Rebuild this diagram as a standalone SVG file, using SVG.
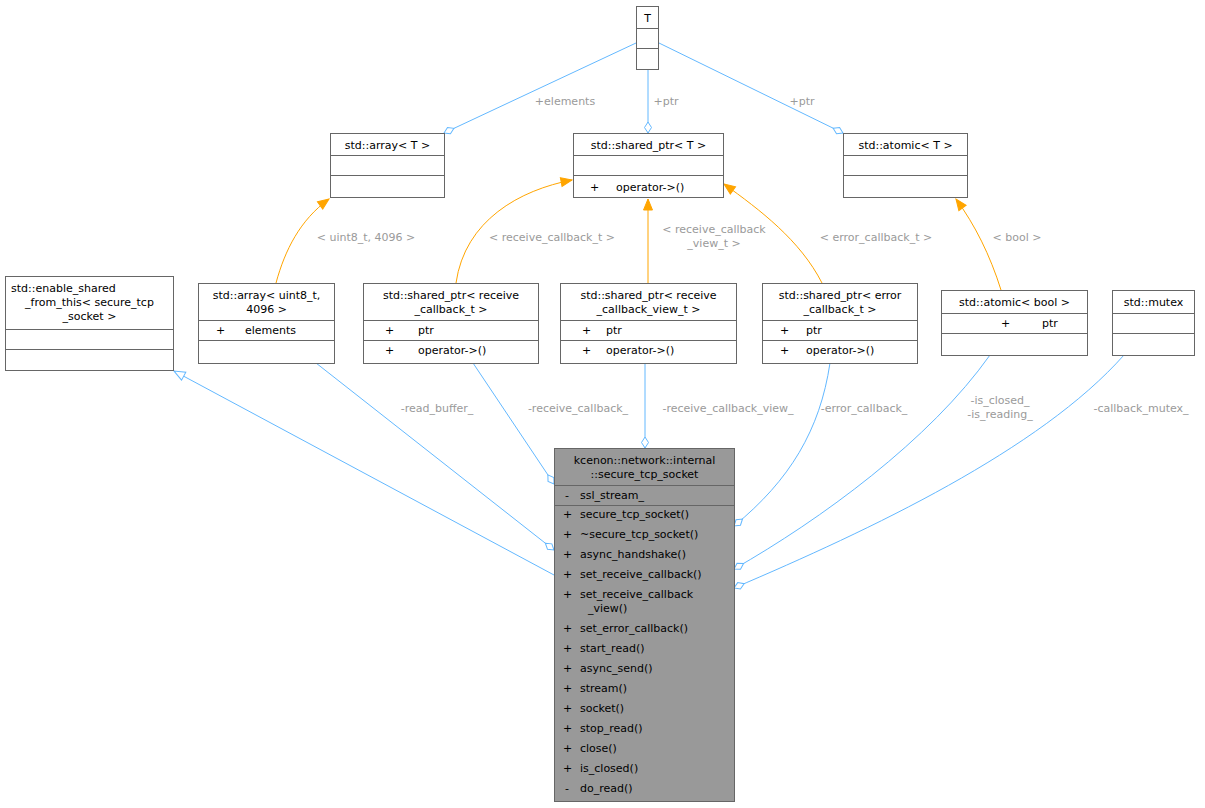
<svg xmlns="http://www.w3.org/2000/svg" width="1205" height="808" viewBox="0 0 1205 808">
<style>
text{font-family:"DejaVu Sans",sans-serif;font-size:11px;fill:#000}
.n rect{fill:#fff;stroke:#666;stroke-width:1}
.n line{stroke:#666;stroke-width:1}
.m rect{fill:#999}
.c{text-anchor:middle}
.e{fill:none;stroke:#63b8ff;stroke-width:1}
.o{fill:none;stroke:#ffa500;stroke-width:1}
.l{fill:#9a9a9a;font-size:11px;text-anchor:middle}
</style>
<defs>
<marker id="dia" markerWidth="14" markerHeight="9" refX="12" refY="4.5" orient="auto" markerUnits="userSpaceOnUse"><path d="M1,4.5 L6.5,1 L12,4.5 L6.5,8z" fill="#fff" stroke="#63b8ff"/></marker>
<marker id="tri" markerWidth="14" markerHeight="12" refX="12" refY="6" orient="auto" markerUnits="userSpaceOnUse"><path d="M1,1.5 L12,6 L1,10.5z" fill="#fff" stroke="#63b8ff"/></marker>
<marker id="arr" markerWidth="14" markerHeight="12" refX="12" refY="6" orient="auto" markerUnits="userSpaceOnUse"><path d="M1,1.5 L12,6 L1,10.5z" fill="#ffa500" stroke="#ffa500"/></marker>
</defs>
<g id="edges">
<path class="e" d="M554,575 L174,371" marker-end="url(#tri)"/>
<path class="e" d="M316,363 L554,550" marker-end="url(#dia)"/>
<path class="e" d="M473,363 L554,484" marker-end="url(#dia)"/>
<path class="e" d="M645,363 L645,448" marker-end="url(#dia)"/>
<path class="e" d="M830,363 C820,430 790,480 734,526" marker-end="url(#dia)"/>
<path class="e" d="M990,355 C930,440 820,520 734,569" marker-end="url(#dia)"/>
<path class="e" d="M1124,355 C1040,450 870,530 734,588" marker-end="url(#dia)"/>
<path class="e" d="M636,43 L444,133" marker-end="url(#dia)"/>
<path class="e" d="M648,70 L648,133" marker-end="url(#dia)"/>
<path class="e" d="M659,43 L843,133" marker-end="url(#dia)"/>
<path class="o" d="M276,283 C285,250 300,220 329,199" marker-end="url(#arr)"/>
<path class="o" d="M456,283 C465,220 520,190 572,180" marker-end="url(#arr)"/>
<path class="o" d="M648,283 L648,199" marker-end="url(#arr)"/>
<path class="o" d="M822,283 C800,240 760,210 724,184" marker-end="url(#arr)"/>
<path class="o" d="M1001,290 C990,255 975,225 956,199" marker-end="url(#arr)"/>
<text class="l" x="437" y="412">-read_buffer_</text>
<text class="l" x="578" y="412">-receive_callback_</text>
<text class="l" x="728" y="412">-receive_callback_view_</text>
<text class="l" x="864" y="412">-error_callback_</text>
<text class="l" x="1000" y="404">-is_closed_</text>
<text class="l" x="1000" y="418">-is_reading_</text>
<text class="l" x="1141" y="412">-callback_mutex_</text>
<text class="l" x="366" y="241">&lt; uint8_t, 4096 &gt;</text>
<text class="l" x="552" y="241">&lt; receive_callback_t &gt;</text>
<text class="l" x="714" y="233">&lt; receive_callback</text>
<text class="l" x="714" y="247">_view_t &gt;</text>
<text class="l" x="876" y="241">&lt; error_callback_t &gt;</text>
<text class="l" x="1017" y="241">&lt; bool &gt;</text>
<text class="l" x="565" y="105">+elements</text>
<text class="l" x="666" y="105">+ptr</text>
<text class="l" x="802" y="105">+ptr</text>
</g>
<g id="T" class="n"><rect x="636.5" y="6.5" width="22" height="63"/><line x1="636.5" y1="28.5" x2="658.5" y2="28.5"/><line x1="636.5" y1="48.5" x2="658.5" y2="48.5"/><text class="c" x="647.5" y="22">T</text></g>
<g id="arrayT" class="n"><rect x="330.5" y="133.5" width="114" height="64"/><line x1="330.5" y1="155.5" x2="444.5" y2="155.5"/><line x1="330.5" y1="175.5" x2="444.5" y2="175.5"/><text class="c" x="387.5" y="149">std::array&lt; T &gt;</text></g>
<g id="sharedT" class="n"><rect x="573.5" y="133.5" width="150" height="64"/><line x1="573.5" y1="155.5" x2="723.5" y2="155.5"/><line x1="573.5" y1="175.5" x2="723.5" y2="175.5"/><text class="c" x="648.5" y="149">std::shared_ptr&lt; T &gt;</text><text x="590" y="191">+</text><text x="616" y="191">operator-&gt;()</text></g>
<g id="atomicT" class="n"><rect x="843.5" y="133.5" width="124" height="64"/><line x1="843.5" y1="155.5" x2="967.5" y2="155.5"/><line x1="843.5" y1="175.5" x2="967.5" y2="175.5"/><text class="c" x="905.5" y="149">std::atomic&lt; T &gt;</text></g>
<g id="enable" class="n"><rect x="5.5" y="276.5" width="168" height="94"/><line x1="5.5" y1="329.5" x2="173.5" y2="329.5"/><line x1="5.5" y1="349.5" x2="173.5" y2="349.5"/><text x="11" y="292">std::enable_shared</text><text class="c" x="89.5" y="306">_from_this&lt; secure_tcp</text><text class="c" x="89.5" y="320">_socket &gt;</text></g>
<g id="arr4096" class="n"><rect x="198.5" y="283.5" width="136" height="80"/><line x1="198.5" y1="320.5" x2="334.5" y2="320.5"/><line x1="198.5" y1="340.5" x2="334.5" y2="340.5"/><text class="c" x="266.5" y="299">std::array&lt; uint8_t,</text><text class="c" x="266.5" y="313">4096 &gt;</text><text x="216" y="334">+</text><text x="245" y="334">elements</text></g>
<g id="spRecv" class="n"><rect x="363.5" y="283.5" width="175" height="80"/><line x1="363.5" y1="320.5" x2="538.5" y2="320.5"/><line x1="363.5" y1="340.5" x2="538.5" y2="340.5"/><text class="c" x="451" y="299">std::shared_ptr&lt; receive</text><text class="c" x="451" y="313">_callback_t &gt;</text><text x="385" y="334">+</text><text x="418" y="334">ptr</text><text x="385" y="354">+</text><text x="418" y="354">operator-&gt;()</text></g>
<g id="spView" class="n"><rect x="560.5" y="283.5" width="176" height="80"/><line x1="560.5" y1="320.5" x2="736.5" y2="320.5"/><line x1="560.5" y1="340.5" x2="736.5" y2="340.5"/><text class="c" x="648.5" y="299">std::shared_ptr&lt; receive</text><text class="c" x="648.5" y="313">_callback_view_t &gt;</text><text x="582" y="334">+</text><text x="606" y="334">ptr</text><text x="582" y="354">+</text><text x="606" y="354">operator-&gt;()</text></g>
<g id="spErr" class="n"><rect x="762.5" y="283.5" width="155" height="80"/><line x1="762.5" y1="320.5" x2="917.5" y2="320.5"/><line x1="762.5" y1="340.5" x2="917.5" y2="340.5"/><text class="c" x="840" y="299">std::shared_ptr&lt; error</text><text class="c" x="840" y="313">_callback_t &gt;</text><text x="780" y="334">+</text><text x="806" y="334">ptr</text><text x="780" y="354">+</text><text x="806" y="354">operator-&gt;()</text></g>
<g id="atomicBool" class="n"><rect x="941.5" y="290.5" width="146" height="65"/><line x1="941.5" y1="313.5" x2="1087.5" y2="313.5"/><line x1="941.5" y1="333.5" x2="1087.5" y2="333.5"/><text class="c" x="1014.5" y="306">std::atomic&lt; bool &gt;</text><text x="1001" y="327">+</text><text x="1042" y="327">ptr</text></g>
<g id="mutex" class="n"><rect x="1112.5" y="290.5" width="82" height="65"/><line x1="1112.5" y1="313.5" x2="1194.5" y2="313.5"/><line x1="1112.5" y1="333.5" x2="1194.5" y2="333.5"/><text class="c" x="1153.5" y="306">std::mutex</text></g>
<g id="main" class="n m"><rect x="554.5" y="448.5" width="180" height="353"/><line x1="554.5" y1="485.5" x2="734.5" y2="485.5"/><line x1="554.5" y1="505.5" x2="734.5" y2="505.5"/>
<text class="c" x="644.5" y="464">kcenon::network::internal</text><text class="c" x="644.5" y="478">::secure_tcp_socket</text>
<text x="565" y="499">-</text><text x="580" y="499">ssl_stream_</text>
<text x="563" y="518">+</text><text x="580" y="518">secure_tcp_socket()</text>
<text x="563" y="538">+</text><text x="580" y="538">~secure_tcp_socket()</text>
<text x="563" y="558">+</text><text x="580" y="558">async_handshake()</text>
<text x="563" y="578">+</text><text x="580" y="578">set_receive_callback()</text>
<text x="563" y="598">+</text><text x="580" y="598">set_receive_callback</text><text x="588" y="612">_view()</text>
<text x="563" y="632">+</text><text x="580" y="632">set_error_callback()</text>
<text x="563" y="652">+</text><text x="580" y="652">start_read()</text>
<text x="563" y="672">+</text><text x="580" y="672">async_send()</text>
<text x="563" y="692">+</text><text x="580" y="692">stream()</text>
<text x="563" y="712">+</text><text x="580" y="712">socket()</text>
<text x="563" y="732">+</text><text x="580" y="732">stop_read()</text>
<text x="563" y="752">+</text><text x="580" y="752">close()</text>
<text x="563" y="772">+</text><text x="580" y="772">is_closed()</text>
<text x="565" y="792">-</text><text x="580" y="792">do_read()</text>
</g>
</svg>
